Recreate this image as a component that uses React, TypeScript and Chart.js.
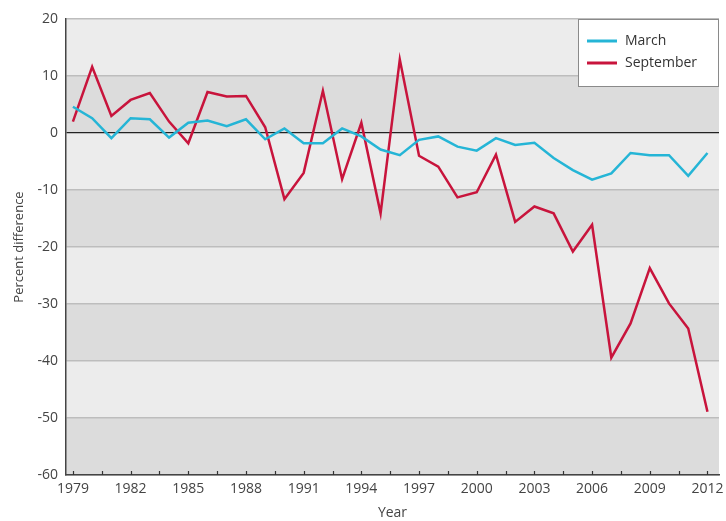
import React, { useEffect, useRef } from "react";
import { Chart, registerables } from "chart.js";

Chart.register(...registerables);

const years = [
  1979, 1980, 1981, 1982, 1983, 1984, 1985, 1986, 1987, 1988, 1989, 1990,
  1991, 1992, 1993, 1994, 1995, 1996, 1997, 1998, 1999, 2000, 2001, 2002,
  2003, 2004, 2005, 2006, 2007, 2008, 2009, 2010, 2011, 2012,
];

const march = [
  4.6, 2.6, -0.9, 2.6, 2.4, -0.8, 1.8, 2.2, 1.2, 2.4, -1.1, 0.8,
  -1.8, -1.8, 0.8, -0.6, -2.9, -3.9, -1.2, -0.6, -2.4, -3.1, -0.9, -2.1,
  -1.7, -4.4, -6.5, -8.2, -7.1, -3.5, -3.9, -3.9, -7.5, -3.5,
];

const september = [
  2.0, 11.6, 3.0, 5.8, 7.0, 2.0, -1.8, 7.2, 6.4, 6.5, 1.0, -11.6,
  -7.0, 7.4, -8.1, 1.8, -14.1, 12.9, -4.0, -5.9, -11.3, -10.4, -3.8, -15.6,
  -12.9, -14.1, -20.8, -16.1, -39.4, -33.4, -23.7, -29.9, -34.3, -48.9,
];

const seriesNames = ["March", "September"];
const seriesColors = ["#25b5d6", "#c8143c"];

const yTicks = [-60, -50, -40, -30, -20, -10, 0, 10, 20];
const xTickStart = 1979;
const xTickStep = 1.5;
const xTickCount = 23;

const FONT = "'Open Sans', 'Noto Sans', sans-serif";

const decorPlugin = {
  id: "decor",
  beforeDraw(chart: any) {
    const { ctx, chartArea } = chart;
    const ys = chart.scales.y;
    ctx.save();
    ctx.fillStyle = "#ffffff";
    ctx.fillRect(0, 0, chart.width, chart.height);
    for (let i = 0; i < yTicks.length - 1; i++) {
      const lo = yTicks[i];
      const hi = yTicks[i + 1];
      const top = ys.getPixelForValue(hi);
      const bot = ys.getPixelForValue(lo);
      const dark = ((hi / 10) % 2 + 2) % 2 === 0 ? false : true;
      ctx.fillStyle = dark ? "#dcdcdc" : "#ececec";
      ctx.fillRect(chartArea.left, top, chartArea.right - chartArea.left, bot - top);
    }
    ctx.restore();
  },
  afterDraw(chart: any) {
    const { ctx, chartArea } = chart;
    const xs = chart.scales.x;
    ctx.save();
    ctx.strokeStyle = "#333";
    ctx.lineWidth = 1.2;
    for (let i = 0; i < xTickCount; i++) {
      const v = xTickStart + i * xTickStep;
      const px = Math.round(xs.getPixelForValue(v)) + 0.5;
      ctx.beginPath();
      ctx.moveTo(px, chartArea.bottom);
      ctx.lineTo(px, chartArea.bottom - 4);
      ctx.stroke();
    }
    const bx = chartArea.right - 141;
    const by = chartArea.top;
    const bw = 141;
    const bh = 68;
    ctx.fillStyle = "#ffffff";
    ctx.fillRect(bx, by, bw, bh);
    ctx.strokeStyle = "#8a8a8a";
    ctx.lineWidth = 1;
    ctx.strokeRect(bx + 0.5, by + 0.5, bw - 1, bh - 1);
    ctx.font = `14px ${FONT}`;
    ctx.textBaseline = "middle";
    ctx.textAlign = "left";
    for (let i = 0; i < seriesNames.length; i++) {
      const yy = by + 22 + i * 22;
      ctx.strokeStyle = seriesColors[i];
      ctx.lineWidth = 3;
      ctx.beginPath();
      ctx.moveTo(bx + 9, yy);
      ctx.lineTo(bx + 39, yy);
      ctx.stroke();
      ctx.fillStyle = "#333";
      ctx.fillText(seriesNames[i], bx + 47, yy);
    }
    ctx.restore();
  },
};

export default function App() {
  const ref = useRef<HTMLCanvasElement | null>(null);
  useEffect(() => {
    document.body.style.margin = "0";
    const canvas = ref.current!;
    const chart = new Chart(canvas, {
      type: "line",
      data: {
        datasets: [
          {
            label: seriesNames[0],
            data: years.map((y, i) => ({ x: y, y: march[i] })),
            borderColor: seriesColors[0],
            borderWidth: 2.5,
            pointRadius: 0,
            tension: 0,
          },
          {
            label: seriesNames[1],
            data: years.map((y, i) => ({ x: y, y: september[i] })),
            borderColor: seriesColors[1],
            borderWidth: 2.5,
            pointRadius: 0,
            tension: 0,
          },
        ],
      },
      options: {
        animation: false,
        responsive: false,
        maintainAspectRatio: false,
        layout: { padding: { left: 0, right: 7, top: 19, bottom: 0 } },
        plugins: {
          legend: { display: false },
          tooltip: { enabled: false },
        },
        scales: {
          x: {
            type: "linear",
            min: 1978.64,
            max: 2012.6,
            afterBuildTicks(scale: any) {
              const t = [];
              for (let i = 0; i < xTickCount; i++) t.push({ value: xTickStart + i * xTickStep });
              scale.ticks = t;
            },
            afterFit(scale: any) {
              scale.height = 46;
              scale.paddingRight = 0;
              scale.paddingLeft = 0;
            },
            ticks: {
              autoSkip: false,
              maxRotation: 0,
              padding: 6,
              color: "#444",
              font: { family: FONT, size: 14 },
              callback: (v: any) => {
                const n = Number(v);
                return Math.abs(((n - xTickStart) / 3) - Math.round((n - xTickStart) / 3)) < 1e-6 ? String(n) : "";
              },
            },
            grid: { display: false, drawTicks: false },
            border: { display: true, color: "#444", width: 1.5 },
            title: {
              display: true,
              text: "Year",
              color: "#444",
              font: { family: FONT, size: 14 },
              padding: { top: 0, bottom: 0 },
            },
          },
          y: {
            type: "linear",
            min: -60,
            max: 20,
            afterBuildTicks(scale: any) {
              scale.ticks = yTicks.map((v) => ({ value: v }));
            },
            afterFit(scale: any) {
              scale.width = 66;
              scale.paddingTop = 0;
              scale.paddingBottom = 0;
            },
            ticks: {
              padding: 8,
              color: "#444",
              font: { family: FONT, size: 14 },
            },
            grid: {
              drawTicks: false,
              color: (c: any) => (c.tick && c.tick.value === 0 ? "#222" : "#bdbdbd"),
              lineWidth: (c: any) => (c.tick && c.tick.value === 0 ? 1.3 : 1.5),
            },
            border: { display: true, color: "#444", width: 1.5 },
            title: {
              display: true,
              text: "Percent difference",
              color: "#444",
              font: { family: FONT, size: 13 },
              padding: { top: 11, bottom: 0 },
            },
          },
        },
      },
      plugins: [decorPlugin],
    });
    return () => chart.destroy();
  }, []);
  return <canvas ref={ref} width={726} height={521} style={{ display: "block" }} />;
}
